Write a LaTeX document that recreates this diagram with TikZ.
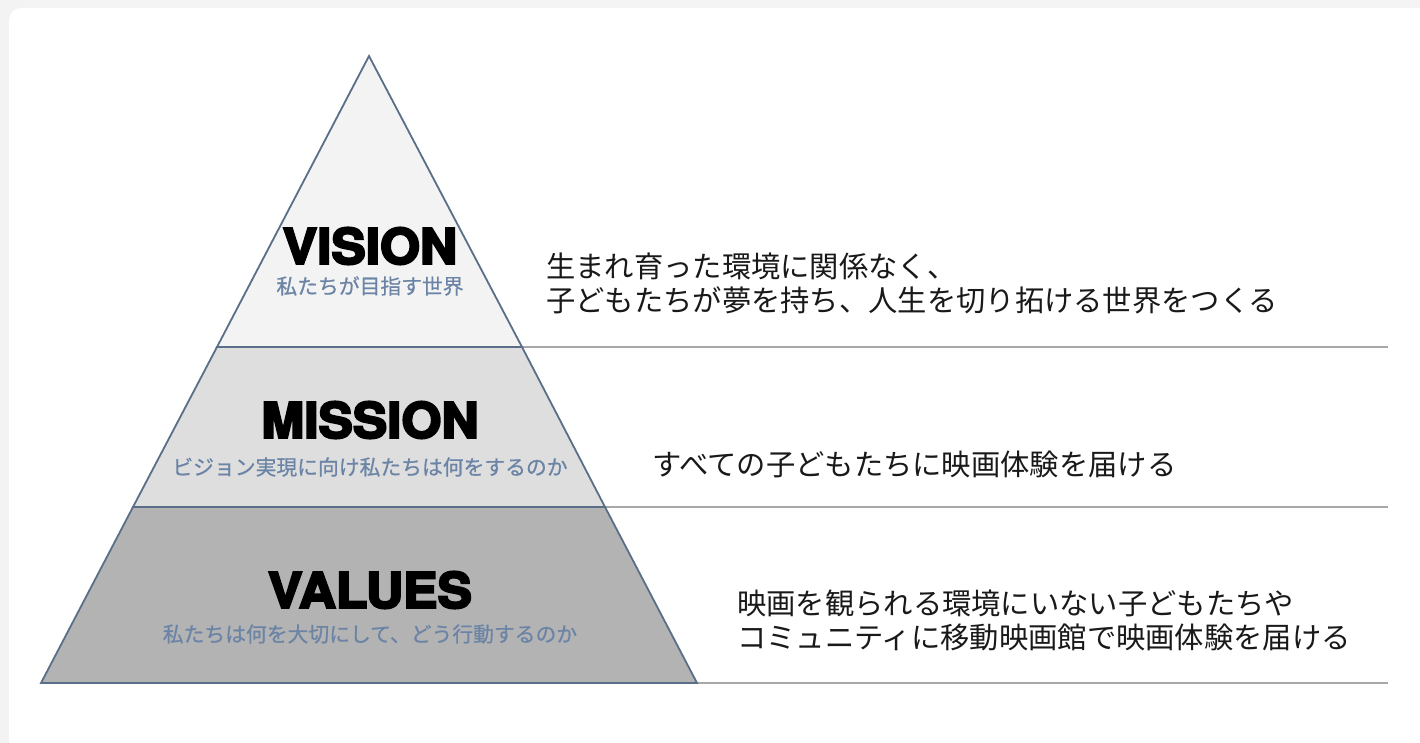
\documentclass[tikz,border=0pt]{standalone}
\usepackage{fontspec}
\newfontfamily\jpfont{Noto Sans CJK JP}
\newfontfamily\jpsubfont{Noto Sans CJK JP}[FakeBold=0.6]
\newfontfamily\headfont{TeX Gyre Heros}[FakeBold=4.5,FakeStretch=1.05]
\definecolor{pagebg}{HTML}{F3F3F3}
\definecolor{outline}{HTML}{5B6E88}
\definecolor{tierA}{HTML}{F3F3F3}
\definecolor{tierB}{HTML}{DEDEDE}
\definecolor{tierC}{HTML}{B3B3B3}
\definecolor{subtxt}{HTML}{6B84A6}
\definecolor{rule}{HTML}{A8A8A8}
\tikzset{
  tier/.style={draw=outline, line width=1.8pt, line join=miter},
  head/.style={font=\headfont\fontsize{49}{51}\selectfont\bfseries, text=black, inner sep=0pt},
  subt/.style={font=\jpsubfont\fontsize{20.8}{23}\selectfont, text=subtxt, inner sep=0pt},
  desc/.style={font=\jpfont\fontsize{29.3}{34}\selectfont, text=black!90, inner sep=0pt, anchor=west, align=left},
  sep/.style={draw=rule, line width=1.5pt}
}
\begin{document}
\begin{tikzpicture}[x=1pt,y=-1pt]
\useasboundingbox (0,0) rectangle (1420,743);
\fill[pagebg] (0,0) rectangle (1420,743);
\fill[white, rounded corners=12pt] (9,8) rectangle (1440,770);
% pyramid corners
\coordinate (apex) at (369,56);
\coordinate (l1) at (217,347);
\coordinate (r1) at (522,347);
\coordinate (l2) at (133,507);
\coordinate (r2) at (605,507);
\coordinate (l3) at (41,683);
\coordinate (r3) at (697,683);
\coordinate (e1) at (1388,347);
\coordinate (e2) at (1388,507);
\coordinate (e3) at (1388,683);
% separators
\draw[sep] (r1) -- (e1);
\draw[sep] (r2) -- (e2);
\draw[sep] (r3) -- (e3);
% tiers
\filldraw[tier, fill=tierC] (l2) -- (r2) -- (r3) -- (l3) -- cycle;
\filldraw[tier, fill=tierB] (l1) -- (r1) -- (r2) -- (l2) -- cycle;
\filldraw[tier, fill=tierA] (apex) -- (r1) -- (l1) -- cycle;
% labels
\node[head] (vision) at (370,246) {VISION};
\node[subt] (visionsub) at (370,286) {私たちが目指す世界};
\node[head] (mission) at (370,420) {MISSION};
\node[subt] (missionsub) at (370,467) {ビジョン実現に向け私たちは何をするのか};
\node[head] (values) at (370,590) {VALUES};
\node[subt] (valuessub) at (370,634) {私たちは何を大切にして、どう行動するのか};
% descriptions
\node[desc] (visiond) at (546,283) {生まれ育った環境に関係なく、\\子どもたちが夢を持ち、人生を切り拓ける世界をつくる};
\node[desc] (missiond) at (652,464) {すべての子どもたちに映画体験を届ける};
\node[desc] (valuesd) at (737,620) {映画を観られる環境にいない子どもたちや\\コミュニティに移動映画館で映画体験を届ける};
\end{tikzpicture}
\end{document}
